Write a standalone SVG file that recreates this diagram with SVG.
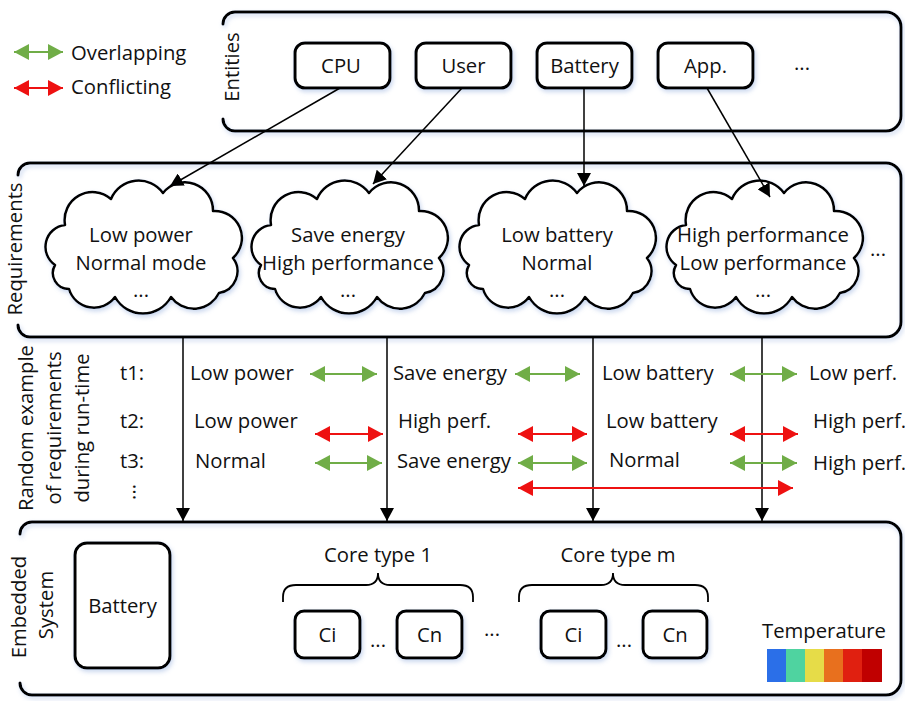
<svg xmlns="http://www.w3.org/2000/svg" width="905" height="701" viewBox="0 0 905 701">
  <style>
    text { font-family: "Open Sans", "Liberation Sans", sans-serif; font-size: 20.3px; fill: #111; }
    .mid { text-anchor: middle; }
    .panel { fill: none; stroke: #000; stroke-width: 3; stroke-linecap: round; }
    .box { fill: #fff; stroke: #000; stroke-width: 3; }
    .cloud { fill: #fff; stroke: #000; stroke-width: 2.5; stroke-linejoin: round; }
    .link { fill: none; stroke: #000; stroke-width: 1.5; marker-end: url(#blackHead); }
    .ok { fill: none; stroke: #70AD47; stroke-width: 2.2; marker-start: url(#greenHead); marker-end: url(#greenHead); }
    .bad { fill: none; stroke: #EE1111; stroke-width: 2.2; marker-start: url(#redHead); marker-end: url(#redHead); }
  </style>
  <defs>
    <filter id="soft" x="-10%" y="-10%" width="120%" height="130%">
      <feDropShadow dx="1.5" dy="2.5" stdDeviation="2" flood-color="#8eaadb" flood-opacity="0.45"/>
    </filter>
    <marker id="blackHead" markerUnits="userSpaceOnUse" markerWidth="14" markerHeight="14" refX="13" refY="7" orient="auto">
      <path d="M0,0 L13,7 L0,14 z" fill="#000"/>
    </marker>
    <marker id="greenHead" markerUnits="userSpaceOnUse" markerWidth="16" markerHeight="16" refX="15" refY="8" orient="auto-start-reverse">
      <path d="M0,0 L15,8 L0,16 z" fill="#70AD47"/>
    </marker>
    <marker id="redHead" markerUnits="userSpaceOnUse" markerWidth="16" markerHeight="16" refX="15" refY="8" orient="auto-start-reverse">
      <path d="M0,0 L15,8 L0,16 z" fill="#EE1111"/>
    </marker>
    <path id="cloudShape" class="cloud" d="M12,82 A22,22 0 0 1 22,42 A28,28 0 0 1 68,16 A30,30 0 0 1 120,10 A28,28 0 0 1 170,28 A27,27 0 0 1 190,75 A22,22 0 0 1 176,110 A28,28 0 0 1 128,114 A32,32 0 0 1 72,114 A26,26 0 0 1 26,106 A16,16 0 0 1 12,82 Z"/>
  </defs>

  <!-- legend -->
  <g id="legend">
    <line class="ok" x1="14" y1="52" x2="63" y2="52"/>
    <text x="71" y="60">Overlapping</text>
    <line class="bad" x1="14" y1="88" x2="63" y2="88"/>
    <text x="71" y="94">Conflicting</text>
  </g>

  <!-- layer frames: open on the left, rounded on the right -->
  <g id="entities-layer">
    <path class="panel" filter="url(#soft)" d="M223,24 A12,12 0 0 1 235,12 L886,12 A15,15 0 0 1 901,27 L901,116 A15,15 0 0 1 886,131 L235,131 A12,12 0 0 1 223,119"/>
    <text transform="translate(239,67) rotate(-90)" class="mid">Entities</text>
  </g>
  <g id="requirements-layer">
    <path class="panel" filter="url(#soft)" d="M18,175 A12,12 0 0 1 30,163 L886,163 A15,15 0 0 1 901,178 L901,322 A15,15 0 0 1 886,337 L30,337 A12,12 0 0 1 18,325"/>
    <text transform="translate(22,249) rotate(-90)" class="mid">Requirements</text>
  </g>
  <g id="system-layer">
    <path class="panel" filter="url(#soft)" d="M20,534 A12,12 0 0 1 32,522 L886,522 A15,15 0 0 1 901,537 L901,680 A15,15 0 0 1 886,695 L32,695 A12,12 0 0 1 20,683"/>
    <text transform="translate(26,607) rotate(-90)" class="mid">Embedded</text>
    <text transform="translate(53,605) rotate(-90)" class="mid">System</text>
  </g>

  <!-- entities -->
  <g id="cpu">
    <rect class="box" filter="url(#soft)" x="295" y="43" width="95" height="45" rx="10"/>
    <text class="mid" x="341" y="73">CPU</text>
  </g>
  <g id="user">
    <rect class="box" filter="url(#soft)" x="416" y="43" width="95" height="45" rx="10"/>
    <text class="mid" x="463.5" y="73">User</text>
  </g>
  <g id="battery-entity">
    <rect class="box" filter="url(#soft)" x="537" y="43" width="95" height="45" rx="10"/>
    <text class="mid" x="584.5" y="73">Battery</text>
  </g>
  <g id="app">
    <rect class="box" filter="url(#soft)" x="658" y="43" width="95" height="45" rx="10"/>
    <text class="mid" x="705.5" y="73">App.</text>
  </g>
  <text x="802" y="70" class="mid">...</text>

  <!-- requirement clouds -->
  <g id="req-cpu">
    <use href="#cloudShape" transform="translate(43,183)" filter="url(#soft)"/>
    <text class="mid" x="141" y="242">Low power</text>
    <text class="mid" x="141" y="270">Normal mode</text>
    <text class="mid" x="141" y="297">...</text>
  </g>
  <g id="req-user">
    <use href="#cloudShape" transform="translate(249,183)" filter="url(#soft)"/>
    <text class="mid" x="348" y="242">Save energy</text>
    <text class="mid" x="348" y="270">High performance</text>
    <text class="mid" x="348" y="297">...</text>
  </g>
  <g id="req-battery">
    <use href="#cloudShape" transform="translate(457,183)" filter="url(#soft)"/>
    <text class="mid" x="557" y="242">Low battery</text>
    <text class="mid" x="557" y="270">Normal</text>
    <text class="mid" x="557" y="297">...</text>
  </g>
  <g id="req-app">
    <use href="#cloudShape" transform="translate(664,183)" filter="url(#soft)"/>
    <text class="mid" x="763" y="242">High performance</text>
    <text class="mid" x="763" y="270">Low performance</text>
    <text class="mid" x="763" y="297">...</text>
  </g>
  <text x="878" y="256" class="mid">...</text>

  <!-- run-time samples -->
  <g id="runtime-label">
    <text transform="translate(33,428) rotate(-90)" class="mid">Random example</text>
    <text transform="translate(61,428) rotate(-90)" class="mid">of requirements</text>
    <text transform="translate(89,428) rotate(-90)" class="mid">during run-time</text>
  </g>
  <g id="runtime-rows">
    <text x="120" y="380">t1:</text>
    <text x="120" y="428">t2:</text>
    <text x="120" y="468">t3:</text>
    <text transform="translate(133,492) rotate(90)" class="mid">...</text>

    <text x="190" y="380">Low power</text>
    <text x="393" y="380">Save energy</text>
    <text x="602" y="380">Low battery</text>
    <text x="809" y="380">Low perf.</text>

    <text x="194" y="428">Low power</text>
    <text x="398" y="428">High perf.</text>
    <text x="606" y="428">Low battery</text>
    <text x="813" y="428">High perf.</text>

    <text x="195" y="468">Normal</text>
    <text x="397" y="468">Save energy</text>
    <text x="609" y="467">Normal</text>
    <text x="813" y="470">High perf.</text>
  </g>

  <!-- embedded system -->
  <g id="battery-unit">
    <rect class="box" filter="url(#soft)" x="75" y="543" width="95" height="125" rx="12"/>
    <text class="mid" x="122.5" y="613">Battery</text>
  </g>
  <g id="core-type-1">
    <text class="mid" x="378" y="562">Core type 1</text>
    <path fill="none" stroke="#000" stroke-width="1.8" d="M283,602 L283,597 Q283,585 296,585 L366,585 Q378,585 378,573 Q378,585 390,585 L460,585 Q473,585 473,597 L473,602"/>
    <rect class="box" filter="url(#soft)" x="295" y="611" width="65" height="47" rx="9"/>
    <text class="mid" x="327.5" y="642">Ci</text>
    <text class="mid" x="378" y="647">...</text>
    <rect class="box" filter="url(#soft)" x="397" y="611" width="65" height="47" rx="9"/>
    <text class="mid" x="429.5" y="642">Cn</text>
  </g>
  <text class="mid" x="492" y="636">...</text>
  <g id="core-type-m">
    <text class="mid" x="618" y="562">Core type m</text>
    <path fill="none" stroke="#000" stroke-width="1.8" d="M519,602 L519,597 Q519,585 532,585 L601,585 Q613,585 613,573 Q613,585 625,585 L695,585 Q708,585 708,597 L708,602"/>
    <rect class="box" filter="url(#soft)" x="541" y="611" width="65" height="47" rx="9"/>
    <text class="mid" x="573.5" y="642">Ci</text>
    <text class="mid" x="624" y="647">...</text>
    <rect class="box" filter="url(#soft)" x="643" y="611" width="64" height="47" rx="9"/>
    <text class="mid" x="675" y="642">Cn</text>
  </g>
  <g id="temperature">
    <text class="mid" x="824" y="638">Temperature</text>
    <rect x="767" y="649" width="20" height="33" fill="#2B6FE8"/>
    <rect x="786" y="649" width="19" height="33" fill="#4FD3A0"/>
    <rect x="805" y="649" width="20" height="33" fill="#E6DC48"/>
    <rect x="824" y="649" width="19" height="33" fill="#E8701E"/>
    <rect x="843" y="649" width="20" height="33" fill="#E02010"/>
    <rect x="862" y="649" width="20" height="33" fill="#C00000"/>
  </g>

  <!-- connectors -->
  <g id="connectors">
    <line class="link" x1="340" y1="88" x2="170" y2="186"/>
    <line class="link" x1="462" y1="88" x2="373" y2="184"/>
    <line class="link" x1="584" y1="88" x2="584" y2="186"/>
    <line class="link" x1="707" y1="88" x2="770" y2="197"/>

    <line class="link" x1="183" y1="338" x2="183" y2="521"/>
    <line class="link" x1="387" y1="338" x2="387" y2="521"/>
    <line class="link" x1="593" y1="338" x2="593" y2="521"/>
    <line class="link" x1="762" y1="338" x2="762" y2="521"/>

    <line class="ok" x1="310" y1="374" x2="377" y2="374"/>
    <line class="ok" x1="515" y1="374" x2="580" y2="374"/>
    <line class="ok" x1="730" y1="374" x2="797" y2="374"/>

    <line class="bad" x1="315" y1="434" x2="383" y2="434"/>
    <line class="bad" x1="518" y1="434" x2="587" y2="434"/>
    <line class="bad" x1="730" y1="434" x2="798" y2="434"/>

    <line class="ok" x1="315" y1="463" x2="382" y2="463"/>
    <line class="ok" x1="518" y1="463" x2="587" y2="463"/>
    <line class="ok" x1="730" y1="463" x2="797" y2="463"/>

    <line class="bad" x1="518" y1="488" x2="793" y2="488"/>
  </g>
</svg>
